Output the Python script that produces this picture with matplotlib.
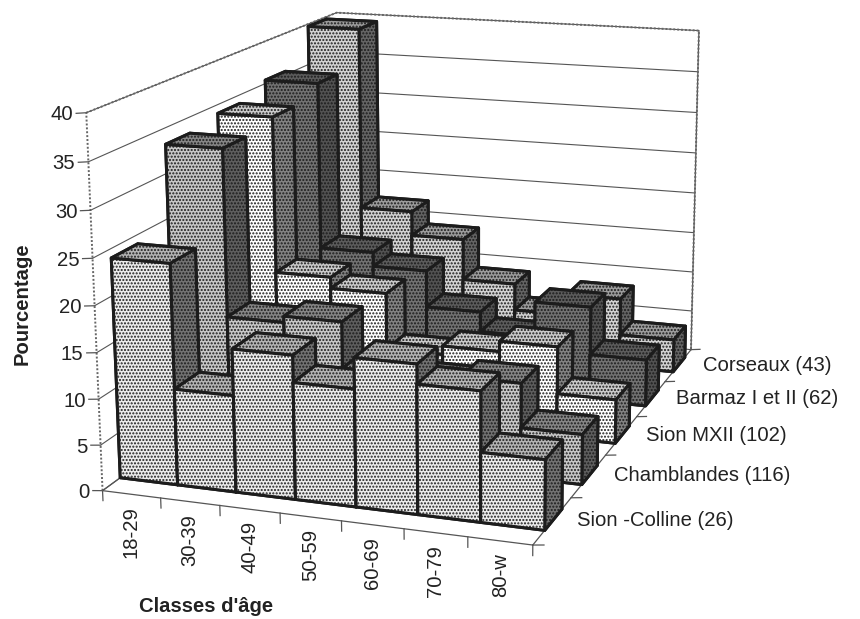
import numpy as np, matplotlib
matplotlib.use('Agg')
import matplotlib.pyplot as plt
from matplotlib.transforms import offset_copy
from mpl_toolkits.mplot3d import proj3d
plt.rcParams['font.family']=['Liberation Sans','DejaVu Sans']

age_classes=['18-29','30-39','40-49','50-59','60-69','70-79','80-w']
series_names=['Sion -Colline (26)','Chamblandes (116)','Sion MXII (102)','Barmaz I et II (62)','Corseaux (43)']
sion_colline=[24,10.5,15.5,12.6,15.9,13.8,7.4]
chamblandes=[33.2,14.5,15.2,10,9.7,10.4,5.5]
sion_mxii=[34,16,14.7,8.2,9.2,10.4,5]
barmaz=[35.4,15.5,13.8,9.4,7,11.2,5.5]
corseaux=[39.7,17.3,14.3,9.2,5.9,8.5,4]
z_ticks=[0,5,10,15,20,25,30,35,40]
series_values=[sion_colline,chamblandes,sion_mxii,barmaz,corseaux]
# face colours per series: top, front, side
series_colors=[('#b4b4b4','#ececec','#727272'),
               ('#868686','#c8c8c8','#5e5e5e'),
               ('#cacaca','#ffffff','#828282'),
               ('#5c5c5c','#727272','#525252'),
               ('#9c9c9c','#d2d2d2','#646464')]

W,H=860,619
fig=plt.figure(figsize=(8.6,6.19),dpi=100)
L,B,S=14.26,-32.95,793.95
ax=fig.add_axes([L/W,B/H,S/W,S/H],projection='3d')
ax.computed_zorder=False
nx,ny=len(age_classes),len(series_names)
depth=0.45; inset=0.3
zo=10
for j in range(ny-1,-1,-1):
    top,front,side=series_colors[j]
    # order of bar3d faces: bottom, top, -y, +y, -x, +x
    cols=[top,top,front,front,side,side]
    for i in range(nx):
        ax.bar3d(i,j+inset,0,1,depth,series_values[j][i],color=cols,shade=False,
                 edgecolor='#1c1c1c',linewidth=2.2,zorder=zo,hatch='.....')
        zo+=1
ax.set_xlim(0,nx,view_margin=0);ax.set_ylim(0,ny,view_margin=0);ax.set_zlim(0,40,view_margin=0)
ax.view_init(14.554,-70.419,0.335)
ax.set_proj_type('persp',focal_length=0.536)
ax.set_box_aspect((1.167,1.696,1))
ax.patch.set_alpha(0)
for a in (ax.xaxis,ax.yaxis,ax.zaxis):
    a.set_pane_color((1,1,1,0))
    a.pane.set_edgecolor((1,1,1,0))
    a.line.set_color('#555555'); a.line.set_linewidth(0.9)
    a._axinfo['grid']['color']='#555555'
    a._axinfo['tick']['inward_factor']=0
    a._axinfo['tick']['outward_factor']=0
ax.xaxis._axinfo['grid']['linewidth']=0
ax.yaxis._axinfo['grid']['linewidth']=0
ax.zaxis._axinfo['grid']['linewidth']=0.8
ax.set_xticks(range(nx+1)); ax.set_xticklabels([])
ax.set_yticks(range(ny+1)); ax.set_yticklabels([])
ax.set_zticks(z_ticks); ax.set_zticklabels([])
# dotted wall outline
dot=dict(color='#666666',linestyle=(0,(1,1)),linewidth=1.4,zorder=5)
ax.plot([0,0,nx,nx],[0,ny,ny,ny],[40,40,40,0],**dot)
ax.plot([0,0],[0,0],[0,40],**dot)
thin=dict(color='#555555',linewidth=0.9,zorder=5)
ax.plot([0,0],[0,ny],[0,0],**thin)
# tick marks
for i in range(nx+1):
    ax.plot([i,i],[0,0],[0,-1.1],**thin)
for j in range(ny+1):
    ax.plot([nx,nx+0.17],[j,j],[0,0.15],**thin)
for z in z_ticks:
    ax.plot([0,-0.17],[0,0],[z,z-0.13],**thin)
ax.apply_aspect()
M=ax.get_proj()
txt=dict(fontsize=14.6,color='#222222')
def place(x,y,z,s,dx=0,dy=0,**kw):
    px,py,_=proj3d.proj_transform(x,y,z,M)
    tr=offset_copy(ax.transData,fig=fig,x=dx,y=dy,units='dots')
    ax.text2D(px,py,s,transform=tr,**kw,**txt)
for z in z_ticks:
    place(0,0,z,str(z),dx=-13,dy=-2,ha='right',va='center')
for i,lab in enumerate(age_classes):
    place(i+0.5,0,0,lab,dy=-12,rotation=90,ha='center',va='top')
for j,lab in enumerate(series_names):
    place(nx,j+0.5,0,lab,dx=25,dy=0,ha='left',va='center')
fig.text(22/W,1-304/H,'Pourcentage',rotation=90,ha='center',va='center',fontsize=14.6,fontweight='bold',color='#222222')
fig.text(206/W,1-606/H,"Classes d'âge",ha='center',va='center',fontsize=14.6,fontweight='bold',color='#222222')
fig.savefig('out.png',dpi=100)
